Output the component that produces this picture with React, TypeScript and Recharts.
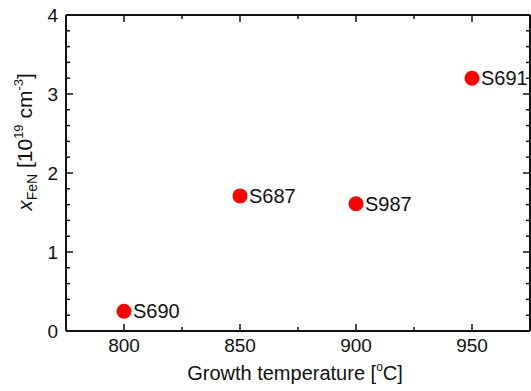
import { ScatterChart, Scatter, XAxis, YAxis } from 'recharts'

// ── Data ───────────────────────────────────────────────────────────────────

const samples = ['S690', 'S687', 'S987', 'S691']
const temperatures = [800, 850, 900, 950]
const concentrations = [0.25, 1.71, 1.61, 3.2]

const xTicks = [800, 825, 850, 875, 900, 925, 950, 975]
const xLabels = ['800', '850', '900', '950']
const yTicks = [0, 0.2, 0.4, 0.6, 0.8, 1, 1.2, 1.4, 1.6, 1.8, 2, 2.2, 2.4, 2.6, 2.8, 3, 3.2, 3.4, 3.6, 3.8, 4]
const yLabels = ['0', '1', '2', '3', '4']

const data = samples.map((name, i) => ({ name, t: temperatures[i], x: concentrations[i] }))

const FONT = '"Liberation Sans", Arial, sans-serif'
const INK = '#111'

// ── Custom ticks (inward) ──────────────────────────────────────────────────

const isMajorX = (v: number) => xLabels.includes(String(v))
const isMajorY = (v: number) => yLabels.includes(String(v))

function BottomTick(props: any) {
  const { x, y, payload } = props
  const major = isMajorX(payload.value)
  return (
    <g>
      <line x1={x} x2={x} y1={y} y2={y - (major ? 7 : 4)} stroke={INK} strokeWidth={1.5} />
      {major && (
        <text x={x} y={y + 21} textAnchor="middle" fontSize={19} fontFamily={FONT} fill={INK}>
          {payload.value}
        </text>
      )}
    </g>
  )
}

function TopTick(props: any) {
  const { x, y, payload } = props
  const major = isMajorX(payload.value)
  return <line x1={x} x2={x} y1={y} y2={y + (major ? 7 : 4)} stroke={INK} strokeWidth={1.5} />
}

function LeftTick(props: any) {
  const { x, y, payload } = props
  const major = isMajorY(payload.value)
  return (
    <g>
      <line x1={x} x2={x + (major ? 7 : 4)} y1={y} y2={y} stroke={INK} strokeWidth={1.5} />
      {major && (
        <text x={x - 8} y={y} dy="0.36em" textAnchor="end" fontSize={19} fontFamily={FONT} fill={INK}>
          {payload.value}
        </text>
      )}
    </g>
  )
}

function RightTick(props: any) {
  const { x, y, payload } = props
  const major = isMajorY(payload.value)
  return <line x1={x} x2={x - (major ? 7 : 4)} y1={y} y2={y} stroke={INK} strokeWidth={1.5} />
}

function Dot(props: any) {
  const { cx, cy, payload } = props
  return (
    <g>
      <circle cx={cx} cy={cy} r={7.5} fill="#ff0000" />
      <text x={cx + 9} y={cy} dy="0.36em" fontSize={20} fontFamily={FONT} fill={INK}>
        {payload.name}
      </text>
    </g>
  )
}

export default function App() {
  return (
    <div style={{ position: 'absolute', left: 0, top: 0, background: '#fff' }}>
      <ScatterChart width={531} height={391} margin={{ top: 14, right: 0, bottom: 0, left: 0 }}>
        <XAxis
          xAxisId="b" dataKey="t" type="number" domain={[775, 975]} ticks={xTicks}
          height={60} tickSize={0} tickMargin={0} tick={<BottomTick />}
          axisLine={{ stroke: INK, strokeWidth: 2 }} interval={0}
        />
        <XAxis
          xAxisId="t" dataKey="t" orientation="top" type="number" domain={[775, 975]} ticks={xTicks}
          height={1} tickSize={0} tickMargin={0} tick={<TopTick />}
          axisLine={{ stroke: INK, strokeWidth: 2 }} interval={0}
        />
        <YAxis
          yAxisId="l" dataKey="x" type="number" domain={[0, 4]} ticks={yTicks}
          width={66} tickSize={0} tickMargin={0} tick={<LeftTick />}
          axisLine={{ stroke: INK, strokeWidth: 2 }} interval={0}
        />
        <YAxis
          yAxisId="r" dataKey="x" orientation="right" type="number" domain={[0, 4]} ticks={yTicks}
          width={1} tickSize={0} tickMargin={0} tick={<RightTick />}
          axisLine={{ stroke: INK, strokeWidth: 2 }} interval={0}
        />
        <Scatter xAxisId="t" yAxisId="r" data={data} shape={() => <g />} isAnimationActive={false} />
        <Scatter xAxisId="b" yAxisId="l" data={data} shape={<Dot />} isAnimationActive={false} />
        <text x={295} y={380} textAnchor="middle" fontSize={20} fontFamily={FONT} fill={INK}>
          Growth temperature [<tspan fontSize={12} dy={-9}>o</tspan><tspan dy={9}>C]</tspan>
        </text>
        <text
          transform="translate(32, 142) rotate(-90)" textAnchor="middle"
          fontSize={21} fontFamily={FONT} fill={INK}
        >
          <tspan fontStyle="italic">x</tspan>
          <tspan fontSize={14} dy={5}>FeN</tspan>
          <tspan dy={-5}> [10</tspan>
          <tspan fontSize={13} dy={-9}>19</tspan>
          <tspan dy={9}> cm</tspan>
          <tspan fontSize={13} dy={-9}>-3</tspan>
          <tspan dy={9}>]</tspan>
        </text>
      </ScatterChart>
    </div>
  )
}
